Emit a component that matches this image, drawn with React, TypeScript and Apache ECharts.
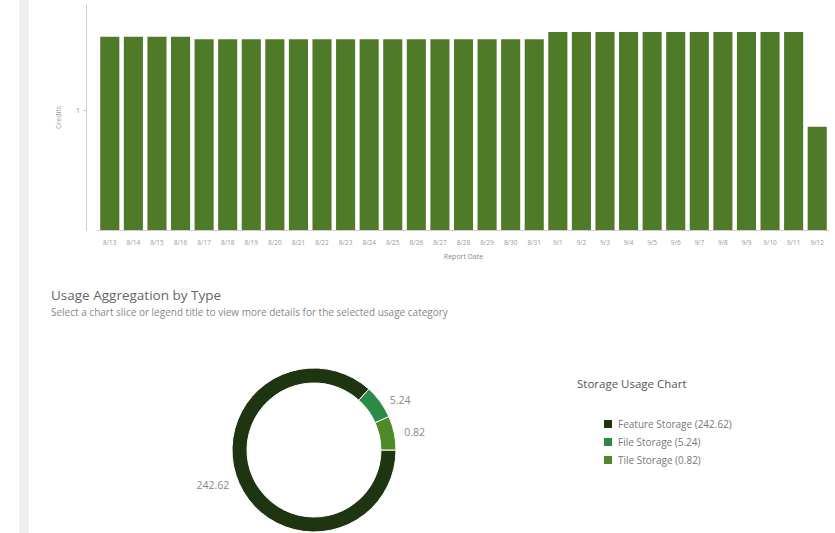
import React, { useEffect, useRef } from "react";
import * as echarts from "echarts";

const dates = [
  "8/13", "8/14", "8/15", "8/16", "8/17", "8/18", "8/19", "8/20", "8/21", "8/22",
  "8/23", "8/24", "8/25", "8/26", "8/27", "8/28", "8/29", "8/30", "8/31", "9/1",
  "9/2", "9/3", "9/4", "9/5", "9/6", "9/7", "9/8", "9/9", "9/10", "9/11", "9/12",
];
const credits = [
  1.61, 1.61, 1.61, 1.61, 1.59, 1.59, 1.59, 1.59, 1.59, 1.59,
  1.59, 1.59, 1.59, 1.59, 1.59, 1.59, 1.59, 1.59, 1.59, 1.65,
  1.65, 1.65, 1.65, 1.65, 1.65, 1.65, 1.65, 1.65, 1.65, 1.65, 0.86,
];
const usageTypes = ["Feature Storage", "File Storage", "Tile Storage"];
const usageValues = [242.62, 5.24, 0.82];
const usageColors = ["#1f3410", "#2b8a45", "#4f8a2a"];

export default function App() {
  const ref = useRef<HTMLDivElement>(null);
  useEffect(() => {
    if (!ref.current) return;
    const chart = echarts.init(ref.current, undefined, { renderer: "svg" });
    const font = "'Open Sans', sans-serif";
    chart.setOption({
      animation: false,
      textStyle: { fontFamily: font },
      title: [
        {
          text: "Usage Aggregation by Type",
          subtext: "Select a chart slice or legend title to view more details for the selected usage category",
          left: 46,
          top: 283,
          itemGap: 5,
          textStyle: { fontSize: 13.5, fontWeight: "normal", color: "#666", fontFamily: font },
          subtextStyle: { fontSize: 10, color: "#888", fontFamily: font },
        },
        {
          text: "Storage Usage Chart",
          left: 572,
          top: 372,
          textStyle: { fontSize: 11.5, fontWeight: "normal", color: "#555", fontFamily: font },
        },
      ],
      graphic: [
        { type: "rect", shape: { x: 19, y: 0, width: 10, height: 533 }, style: { fill: "#f0f0f0" }, silent: true },
      ],
      grid: { left: 98, right: 6, top: 5, bottom: 303 },
      xAxis: {
        type: "category",
        data: dates,
        name: "Report Date",
        nameLocation: "middle",
        nameGap: 23,
        nameTextStyle: { fontSize: 7, color: "#888" },
        axisLine: { lineStyle: { color: "#ccc" } },
        axisTick: { show: false },
        axisLabel: { fontSize: 6.5, color: "#999", margin: 9, interval: 0 },
      },
      yAxis: {
        type: "value",
        min: 0,
        max: 1.875,
        interval: 1,
        offset: 12,
        name: "Credits",
        nameLocation: "middle",
        nameGap: 24,
        nameTextStyle: { fontSize: 7, color: "#999" },
        axisLine: { show: true, lineStyle: { color: "#ccc" } },
        axisTick: { show: true, length: 3, lineStyle: { color: "#ccc" } },
        axisLabel: { fontSize: 7, color: "#888", showMinLabel: false, showMaxLabel: false, margin: 6 },
        splitLine: { show: false },
      },
      legend: {
        orient: "vertical",
        left: 597,
        top: 413,
        itemWidth: 10,
        itemHeight: 10,
        itemGap: 6,
        icon: "rect",
        data: usageTypes,
        textStyle: { fontSize: 10, color: "#777" },
        formatter: (name: string) => {
          const i = usageTypes.indexOf(name);
          return `${name} (${usageValues[i]})`;
        },
      },
      series: [
        {
          type: "bar",
          data: credits,
          barCategoryGap: "19%",
          itemStyle: { color: "#4f7b28" },
        },
        {
          type: "pie",
          center: [314, 450],
          radius: [67, 82],
          startAngle: 0,
          clockwise: true,
          minAngle: 24,
          avoidLabelOverlap: false,
          data: usageTypes.map((n, i) => ({ name: n, value: usageValues[i], itemStyle: { color: usageColors[i] } })),
          itemStyle: { borderColor: "#fff", borderWidth: 1 },
          label: { show: true, position: "outside", formatter: "{c}", fontSize: 10.5, color: "#888" },
          labelLine: { show: false, length: 3, length2: 2 },
        },
      ],
    });
    return () => chart.dispose();
  }, []);
  return <div ref={ref} style={{ position: "absolute", left: 0, top: 0, width: 835, height: 533 }} />;
}
